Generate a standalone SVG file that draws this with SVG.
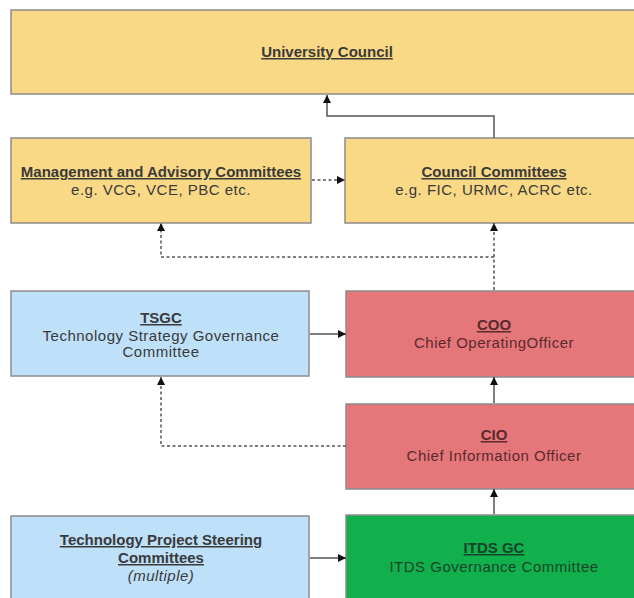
<svg xmlns="http://www.w3.org/2000/svg" width="634" height="598" viewBox="0 0 634 598">
<defs>
<style>
.box{stroke:#8c8c8c;stroke-width:1.5}
.y{fill:#f9d985}.b{fill:#bee0f9}.r{fill:#e5777b}.g{fill:#12b04c}
text{font-family:"Liberation Sans",Arial,sans-serif;font-size:15px;text-anchor:middle;fill:#3a3a3a;letter-spacing:0.5px}
.t{font-weight:bold;text-decoration:underline;letter-spacing:0}
.rt{fill:#5b2a2d}.gt{fill:#16432a}
.solid{fill:none;stroke:#555;stroke-width:1.5}
.dash{fill:none;stroke:#555;stroke-width:1.5;stroke-dasharray:3 2.5}
</style>
<marker id="ah" markerWidth="8" markerHeight="8" refX="8" refY="4" orient="auto" markerUnits="userSpaceOnUse">
<path d="M0,0 L8,4 L0,8 z" fill="#111"/>
</marker>
</defs>
<rect width="634" height="598" fill="#ffffff"/>
<g id="university-council">
<rect class="box y" x="11" y="10" width="630" height="84"/>
<text class="t" x="327" y="57">University Council</text>
</g>
<g id="management-advisory">
<rect class="box y" x="11" y="138" width="300" height="85"/>
<text class="t" x="161" y="177">Management and Advisory Committees</text>
<text x="161" y="195">e.g. VCG, VCE, PBC etc.</text>
</g>
<g id="council-committees">
<rect class="box y" x="345" y="138" width="296" height="85"/>
<text class="t" x="494" y="177">Council Committees</text>
<text x="494" y="195">e.g. FIC, URMC, ACRC etc.</text>
</g>
<g id="tsgc">
<rect class="box b" x="11" y="291" width="298" height="85"/>
<text class="t" x="161" y="323">TSGC</text>
<text x="161" y="341">Technology Strategy Governance</text>
<text x="161" y="357">Committee</text>
</g>
<g id="coo">
<rect class="box r" x="346" y="291" width="295" height="86"/>
<text class="t rt" x="494" y="330">COO</text>
<text class="rt" x="494" y="348">Chief OperatingOfficer</text>
</g>
<g id="cio">
<rect class="box r" x="346" y="404" width="295" height="85"/>
<text class="t rt" x="494" y="440">CIO</text>
<text class="rt" x="494" y="461">Chief Information Officer</text>
</g>
<g id="tpsc">
<rect class="box b" x="11" y="516" width="298" height="90"/>
<text class="t" x="161" y="545">Technology Project Steering</text>
<text class="t" x="161" y="563">Committees</text>
<text x="161" y="581" font-style="italic">(multiple)</text>
</g>
<g id="itds-gc">
<rect class="box g" x="346" y="515" width="295" height="90"/>
<text class="t gt" x="494" y="553">ITDS GC</text>
<text class="gt" x="494" y="572">ITDS Governance Committee</text>
</g>
<g id="connectors">
<path class="solid" d="M494,138 V116 H327 V95" marker-end="url(#ah)"/>
<path class="dash" d="M312,180 H345" marker-end="url(#ah)"/>
<path class="dash" d="M494,290 V223" marker-end="url(#ah)"/>
<path class="dash" d="M494,257 H161 V223" marker-end="url(#ah)"/>
<path class="solid" d="M310,334 H346" marker-end="url(#ah)"/>
<path class="solid" d="M494,403 V377" marker-end="url(#ah)"/>
<path class="dash" d="M346,446 H161 V377" marker-end="url(#ah)"/>
<path class="solid" d="M494,514 V489" marker-end="url(#ah)"/>
<path class="solid" d="M310,558 H346" marker-end="url(#ah)"/>
</g>
</svg>
